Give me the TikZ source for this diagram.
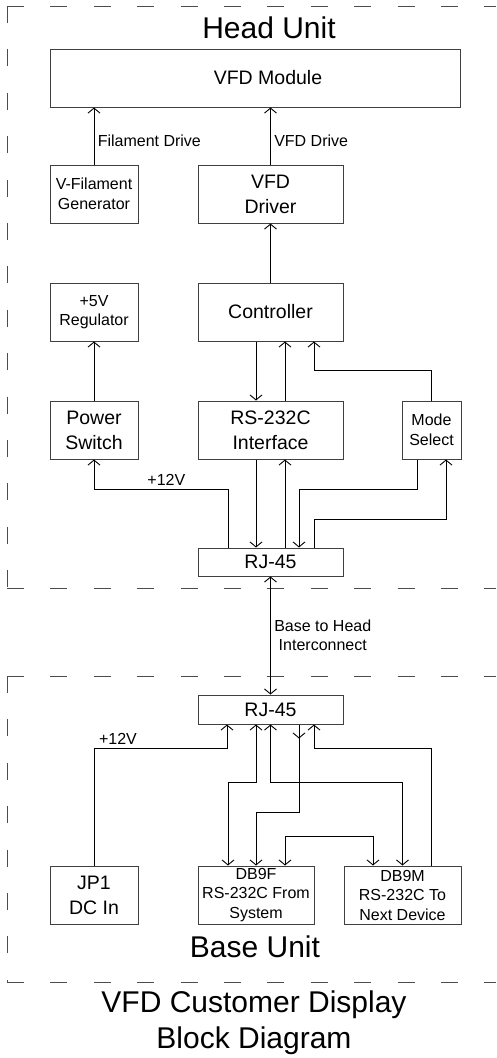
\documentclass[tikz,border=0pt]{standalone}
\usepackage{fontspec}
\setmainfont{Liberation Sans}
\usetikzlibrary{arrows.meta,positioning}
\newcommand\boxfont{\fontsize{19.5}{25}\selectfont}
\newcommand\tagfont{\fontsize{16}{19.5}\selectfont}
\newcommand\titlefont{\fontsize{30}{36}\selectfont}
\tikzset{
  unit_box/.style={draw=black!75,line width=1pt,minimum height=58pt,inner sep=0pt,
    align=center,font=\boxfont},
  unit_small/.style={unit_box,font=\tagfont},
  lbl/.style={font=\tagfont,align=center},
  title_lbl/.style={font=\titlefont,align=center},
  frame_dash/.style={draw=black!70,line width=1pt,dash pattern=on 17pt off 26.4pt},
  arr/.style={-{Straight Barb[length=5pt,width=12pt]},line width=0.9pt},
  arr_both/.style={{Straight Barb[length=5pt,width=12pt]}-{Straight Barb[length=5pt,width=12pt]},line width=0.9pt},
}

\begin{document}
\begin{tikzpicture}[x=1pt,y=-1pt]
  \useasboundingbox (0,0) rectangle (496,1058);

  \coordinate (hcorner) at (7,6);
  \coordinate (hbottom) at (7,588);
  \coordinate (bcorner) at (7,676);
  \coordinate (bbottom) at (7,982);
  \draw[frame_dash] (hcorner) -- ++(489pt,0);
  \draw[frame_dash] (hcorner) -- (hbottom);
  \draw[frame_dash] (hbottom) -- ++(489pt,0);
  \draw[frame_dash] (bcorner) -- ++(489pt,0);
  \draw[frame_dash] (bcorner) -- (bbottom);
  \draw[frame_dash] (bbottom) -- ++(489pt,0);

  \node[title_lbl] (head_t) at (269,28) {Head Unit};
  \node[title_lbl] (base_t) at (255,947) {Base Unit};
  \node[title_lbl] (diag_t) at (254,1023) {VFD Customer Display\\Block Diagram};

  \node[unit_box,minimum width=410pt,label={[font=\boxfont,xshift=13pt]center:VFD Module}] (vfd) at (255,78) {};
  \node[unit_small,minimum width=88pt] (filgen) at (94,194) {V-Filament\\Generator};
  \node[unit_box,minimum width=145pt,right=59pt of filgen] (driver) {VFD\\Driver};
  \node[unit_small,minimum width=88pt,below=59pt of filgen] (reg) {+5V\\Regulator};
  \node[unit_box,minimum width=145pt,below=59pt of driver] (ctrl) {Controller};
  \node[unit_box,minimum width=88pt,below=59pt of reg] (pwr) {Power\\Switch};
  \node[unit_box,minimum width=145pt,below=59pt of ctrl] (rs) {RS-232C\\Interface};
  \node[unit_small,minimum width=59pt,right=58pt of rs] (mode) {Mode\\Select};
  \node[unit_box,minimum width=145pt,minimum height=28pt,below=88pt of rs] (rjh) {RJ-45};
  \node[unit_box,minimum width=145pt,minimum height=29pt,below=118pt of rjh] (rjb) {RJ-45};
  \node[unit_box,minimum width=88pt] (jp1) at (94,895) {JP1\\DC In};
  \node[unit_small,minimum width=116pt,right=59pt of jp1] (db9f) {DB9F\\RS-232C From\\System};
  \node[unit_small,minimum width=117pt,right=29pt of db9f] (db9m) {DB9M\\RS-232C To\\Next Device};

  \draw[arr] (filgen.north) -- node[lbl,right,pos=0.41]{Filament Drive} (filgen.north |- vfd.south);
  \draw[arr] (driver.north) -- node[lbl,right,pos=0.41]{VFD Drive} (driver.north |- vfd.south);
  \draw[arr] (ctrl.north) -- (driver.south);
  \draw[arr] (pwr.north) -- (reg.south);
  \draw[arr] ([xshift=-14.5pt]ctrl.south) -- ([xshift=-14.5pt]rs.north);
  \draw[arr] ([xshift=14.5pt]rs.north) -- ([xshift=14.5pt]ctrl.south);
  \draw[arr] (mode.north) -- ++(0,30pt) -| ([xshift=43.5pt]ctrl.south);
  \draw[arr] ([xshift=-42.5pt]rjh.north) -- ++(0,58pt) -| node[lbl,above,pos=0.23]{+12V} (pwr.south);
  \draw[arr] ([xshift=-14.5pt]rs.south) -- ([xshift=-14.5pt]rjh.north);
  \draw[arr] ([xshift=14.5pt]rjh.north) -- ([xshift=14.5pt]rs.south);
  \draw[arr] ([xshift=-14.5pt]mode.south) -- ++(0,-30pt) -| ([xshift=28.5pt]rjh.north);
  \draw[arr] ([xshift=43.5pt]rjh.north) -- ++(0,28pt) -| ([xshift=14.5pt]mode.south);
  \draw[arr_both] (rjh.south) -- node[lbl,right]{Base to Head\\Interconnect} (rjb.north);

  \draw[arr] (jp1.north) -- ++(0,117pt) -| node[lbl,above,pos=0.09]{+12V} ([xshift=-43.5pt]rjb.south);
  \draw[arr_both] ([xshift=-14.5pt]rjb.south) -- ++(0,-58pt) -| ([xshift=-28pt]db9f.north);
  \draw[arr_both] (rjb.south) -- ++(0,-58pt) -| (db9m.north);
  \draw[arr] ([xshift=28.5pt]rjb.south) -- ++(0,-14pt);
  \draw[arr] ([xshift=28.5pt]rjb.south) -- ++(0,-88pt) -| (db9f.north);
  \draw[arr_both] ([xshift=29pt]db9f.north) -- ++(0,29pt) -| ([xshift=-29.5pt]db9m.north);
  \draw[arr] ([xshift=28.5pt]db9m.north) -- ++(0,117pt) -| ([xshift=43.5pt]rjb.south);
\end{tikzpicture}
\end{document}
